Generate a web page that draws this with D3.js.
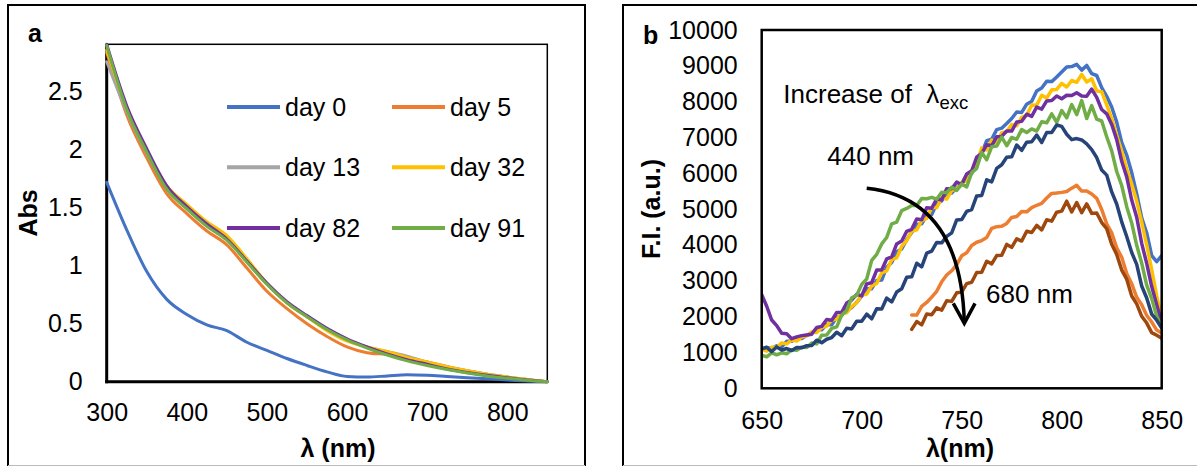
<!DOCTYPE html>
<html><head><meta charset="utf-8">
<script src="https://cdn.jsdelivr.net/npm/d3@7"></script>
<style>
body{margin:0;background:#fff}
svg{display:block}
text{font-family:"Liberation Sans",Arial,sans-serif;fill:#000}
</style>
</head><body>
<svg id="c" width="1197" height="466"></svg>
<script>
// ---------- Panel a data ----------
const wlA = [300,325,350,375,400,425,450,475,500,525,550,575,600,625,650,675,700,725,750,775,800,825,850];
const day0  = [1.72,1.31,0.95,0.71,0.58,0.49,0.44,0.34,0.27,0.2,0.14,0.085,0.045,0.04,0.05,0.06,0.055,0.045,0.035,0.025,0.015,0.006,0];
const day5  = [2.84,2.3,1.93,1.62,1.45,1.3,1.18,0.98,0.78,0.63,0.5,0.39,0.3,0.25,0.235,0.21,0.17,0.13,0.095,0.065,0.04,0.018,0];
const day13 = [2.76,2.33,1.97,1.67,1.5,1.35,1.23,1.04,0.84,0.68,0.56,0.45,0.36,0.3,0.26,0.22,0.17,0.13,0.095,0.065,0.04,0.018,0];
const day32 = [2.86,2.36,2.0,1.69,1.53,1.38,1.26,1.06,0.85,0.68,0.56,0.44,0.35,0.3,0.26,0.21,0.17,0.13,0.095,0.065,0.04,0.018,0];
const day82 = [2.91,2.38,2.01,1.69,1.51,1.36,1.23,1.04,0.85,0.69,0.57,0.46,0.37,0.3,0.24,0.19,0.15,0.11,0.08,0.055,0.035,0.015,0];
const day91 = [2.9,2.35,1.98,1.66,1.49,1.34,1.22,1.03,0.84,0.68,0.56,0.45,0.36,0.29,0.23,0.18,0.14,0.105,0.075,0.05,0.03,0.012,0];
const namesA = ["day 0","day 5","day 13","day 32","day 82","day 91"];
const xTicksA = [300,400,500,600,700,800];
const yTicksA = [0,0.5,1,1.5,2,2.5];

// ---------- Panel b data ----------
const wlB = [650,652.5,655,657.5,660,662.5,665,667.5,670,672.5,
  675,677.5,680,682.5,685,687.5,690,692.5,695,697.5,
  700,702.5,705,707.5,710,712.5,715,717.5,720,722.5,
  725,727.5,730,732.5,735,737.5,740,742.5,745,747.5,
  750,752.5,755,757.5,760,762.5,765,767.5,770,772.5,
  775,777.5,780,782.5,785,787.5,790,792.5,795,797.5,
  800,802.5,805,807.5,810,812.5,815,817.5,820,822.5,
  825,827.5,830,832.5,835,837.5,840,842.5,845,847.5,
  850];
const wlBLate = wlB.slice(30); // orange & brown start at 725 nm
const ex1 = [1100,1140,1110,1190,1160,1310,1310,1400,1390,1480,
  1540,1650,1635,1780,1775,1980,2030,2215,2250,2400,
  2570,2780,2780,3010,3020,3380,3510,3810,3890,4150,
  4350,4570,4590,4830,4850,5150,5230,5460,5450,5600,
  5720,5950,5990,6390,6560,6910,6950,7220,7260,7390,
  7530,7710,7700,7930,8010,8300,8380,8570,8560,8690,
  8830,8970,8980,9040,8880,9010,8780,8730,8390,8150,
  7850,7430,6860,6510,6020,5425,4760,4335,3705,3535,
  3700];
const ex2 = [1086,1036,1144,1144,1266,1240,1348,1320,1428,1466,
  1572,1557,1698,1738,1907,1925,2086,2110,2281,2392,
  2600,2630,2860,2930,3220,3280,3590,3640,3960,4120,
  4380,4420,4680,4740,5050,5040,5310,5280,5520,5560,
  5750,5790,6080,6240,6710,6650,6930,6850,7130,7160,
  7360,7330,7560,7620,7910,7900,8180,8100,8330,8340,
  8510,8410,8590,8540,8760,8550,8640,8300,8280,7910,
  7530,7055,6620,6120,5705,5225,4640,4000,3315,2580,
  1950];
const ex3 = [2615,2290,1905,1750,1535,1525,1385,1435,1470,1490,
  1511,1696,1729,1920,1897,2115,2123,2379,2466,2622,
  2580,2910,2950,3300,3300,3610,3670,4030,4110,4380,
  4438,4728,4702,5040,5026,5290,5254,5572,5568,5756,
  5680,5980,6070,6450,6560,6800,6770,7020,7030,7180,
  7180,7430,7450,7650,7590,7850,7790,8020,8030,8160,
  8080,8180,8170,8250,8160,8150,8350,8120,7780,7660,
  7365,6940,6335,5900,5255,4775,4045,3485,2840,2330,
  1820];
const ex4 = [920,880,988,936,992,962,1076,1064,1154,1138,
  1265,1240,1484,1488,1671,1716,2043,2172,2527,2594,
  2900,3050,3570,3740,4030,4210,4590,4640,4960,5020,
  5100,5100,5300,5290,5330,5280,5470,5460,5610,5520,
  5700,5620,6020,6140,6580,6380,6740,6760,7010,6770,
  7000,6950,7220,7140,7240,7180,7440,7410,7660,7420,
  7750,7550,7920,7640,8030,7530,7890,7510,7460,7020,
  6625,6050,5660,5070,4615,3990,3495,2880,2505,2010,
  1720];
const ex5 = [1100,1145,1025,1155,1070,1110,1055,1140,1130,1190,
  1192,1343,1273,1369,1416,1564,1467,1678,1658,1870,
  1870,2070,1940,2220,2210,2520,2410,2690,2780,3100,
  3110,3490,3390,3770,3830,4070,4060,4240,4340,4700,
  4710,4940,4990,5370,5380,5820,5760,6140,6240,6450,
  6460,6790,6640,6870,6880,7070,6860,7140,7140,7350,
  7310,7090,6940,6970,6930,6820,6660,6440,6090,5950,
  5480,5145,4645,4235,3790,3460,2855,2520,2070,1900,
  1680];
const ex6 = [2048,2044,2286,2396,2544,2708,2972,3162,3280,3450,
  3698,3784,3986,4076,4124,4208,4462,4512,4520,4600,
  4768,4794,4936,4926,5044,5108,5162,5312,5440,5450,
  5468,5494,5586,5666,5504,5508,5422,5302,4990,4590,
  4340,3920,3655,3205,2920,2540,2335,2035,1850,1625,
  1540];
const ex7 = [1644,1862,1770,2074,2050,2246,2182,2444,2426,2666,
  2684,2922,2960,3234,3240,3546,3472,3704,3716,4016,
  3934,4172,4110,4384,4350,4546,4422,4704,4666,4916,
  4944,5222,4920,5184,4900,5146,4882,4894,4626,4456,
  4020,3735,3300,3045,2575,2355,2010,1820,1555,1480,
  1400];
const xTicksB = [650,700,750,800,850];
const yTicksB = [0,1000,2000,3000,4000,5000,6000,7000,8000,9000,10000];

// ---------- styles ----------
const colorsA = ["#4472C4","#ED7D31","#A5A5A5","#FFC000","#7030A0","#70AD47"];
const FONT = "'Liberation Sans', Arial, sans-serif";
const svg = d3.select("#c");

// outer panel frames
svg.append("rect").attr("x",8).attr("y",5).attr("width",577).attr("height",490)
  .attr("fill","none").attr("stroke","#000").attr("stroke-width",2);
svg.append("rect").attr("x",623).attr("y",5).attr("width",600).attr("height",490)
  .attr("fill","none").attr("stroke","#000").attr("stroke-width",2);
svg.append("line").attr("x1",8).attr("x2",585).attr("y1",465.5).attr("y2",465.5).attr("stroke","#bbb");
svg.append("line").attr("x1",623).attr("x2",1197).attr("y1",465.5).attr("y2",465.5).attr("stroke","#bbb");

function styleAxis(g){
  g.select(".domain").remove();
  g.attr("font-size",25).attr("font-family",FONT);
  g.selectAll("text").attr("fill","#000");
}

// ================= Panel a =================
const xA = d3.scaleLinear().domain([300,850]).range([106.7,547.3]);
const yA = d3.scaleLinear().domain([0,2.91]).range([381.7,44.3]);
const gA = svg.append("g");
gA.append("rect").attr("x",xA(300)).attr("y",yA(2.91)).attr("width",xA(850)-xA(300)).attr("height",yA(0)-yA(2.91))
  .attr("fill","none").attr("stroke","#000").attr("stroke-width",1.5);
gA.append("line").attr("x1",xA(300)).attr("x2",xA(300)).attr("y1",yA(2.91)).attr("y2",yA(0)+1.5).attr("stroke","#000").attr("stroke-width",3);
gA.append("line").attr("x1",xA(300)-1.5).attr("x2",xA(850)).attr("y1",yA(0)).attr("y2",yA(0)).attr("stroke","#000").attr("stroke-width",3);

gA.append("g").attr("transform",`translate(0,${yA(0)})`)
  .call(d3.axisBottom(xA).tickValues(xTicksA).tickSize(0).tickPadding(22).tickFormat(d3.format("d")))
  .call(styleAxis);
gA.append("g").attr("transform",`translate(${xA(300)},0)`)
  .call(d3.axisLeft(yA).tickValues(yTicksA).tickSize(0).tickPadding(24).tickFormat(d=>String(d)))
  .call(styleAxis);

gA.append("clipPath").attr("id","clipA").append("rect")
  .attr("x",xA(300)-3).attr("y",yA(2.91)-2).attr("width",xA(850)-xA(300)+6).attr("height",yA(0)-yA(2.91)+4);
const lineA = d3.line().x((d,i)=>xA(wlA[i])).y(d=>yA(d)).curve(d3.curveMonotoneX);
const seriesA = [day0,day5,day13,day32,day82,day91];
gA.append("g").attr("clip-path","url(#clipA)").selectAll("path").data(seriesA).join("path")
  .attr("d",lineA).attr("fill","none").attr("stroke",(d,i)=>colorsA[i])
  .attr("stroke-width",3).attr("stroke-linejoin","round").attr("stroke-linecap","round");

// legend
const legRowY = [107,167.3,228];
const legColX = [227,392];
namesA.forEach((n,i)=>{
  const r = Math.floor(i/2), c = i%2;
  const lg = gA.append("g").attr("transform",`translate(${legColX[c]},${legRowY[r]})`);
  lg.append("line").attr("x1",0).attr("x2",53).attr("y1",0).attr("y2",0)
    .attr("stroke",colorsA[i]).attr("stroke-width",4);
  lg.append("text").attr("x",58).attr("y",9).attr("font-size",25).text(n);
});

// titles
gA.append("text").attr("x",28).attr("y",42).attr("font-size",25).attr("font-weight","bold").text("a");
gA.append("text").attr("transform","translate(37,213) rotate(-90)").attr("text-anchor","middle")
  .attr("font-size",25).attr("font-weight","bold").text("Abs");
gA.append("text").attr("x",338).attr("y",457).attr("text-anchor","middle")
  .attr("font-size",25).attr("font-weight","bold").text("λ (nm)");

// ================= Panel b =================
const xB = d3.scaleLinear().domain([650,850]).range([761.7,1161.7]);
const yB = d3.scaleLinear().domain([0,10000]).range([388.3,30]);
const gB = svg.append("g");

gB.append("g").attr("transform",`translate(0,${yB(0)})`)
  .call(d3.axisBottom(xB).tickValues(xTicksB).tickSize(0).tickPadding(23).tickFormat(d3.format("d")))
  .call(styleAxis);
gB.append("g").attr("transform",`translate(${xB(650)},0)`)
  .call(d3.axisLeft(yB).tickValues(yTicksB).tickSize(0).tickPadding(24).tickFormat(d3.format("d")))
  .call(styleAxis);

gB.append("clipPath").attr("id","clipB").append("rect")
  .attr("x",xB(650)).attr("y",yB(10000)).attr("width",xB(850)-xB(650)).attr("height",yB(0)-yB(10000));
const seriesB = [
  {x:wlB, v:ex1, c:"#4472C4"},
  {x:wlB, v:ex2, c:"#FFC000"},
  {x:wlB, v:ex3, c:"#7030A0"},
  {x:wlB, v:ex4, c:"#70AD47"},
  {x:wlB, v:ex5, c:"#264478"},
  {x:wlBLate, v:ex6, c:"#ED7D31"},
  {x:wlBLate, v:ex7, c:"#9E480E"}
];
gB.append("g").attr("clip-path","url(#clipB)").selectAll("path").data(seriesB).join("path")
  .attr("d",s=>d3.line().x((d,i)=>xB(s.x[i])).y(d=>yB(d))(s.v))
  .attr("fill","none").attr("stroke",s=>s.c).attr("stroke-width",3.5)
  .attr("stroke-linejoin","round").attr("stroke-linecap","round");

gB.append("rect").attr("x",xB(650)).attr("y",yB(10000)).attr("width",xB(850)-xB(650)).attr("height",yB(0)-yB(10000))
  .attr("fill","none").attr("stroke","#000").attr("stroke-width",2.5);

// annotations (data coordinates)
const t1 = gB.append("text").attr("x",xB(660.8)).attr("y",yB(7970)).attr("font-size",26)
  .style("white-space","pre");
t1.append("tspan").text("Increase of  λ");
t1.append("tspan").attr("font-size",18.5).attr("dy",6.5).text("exc");
gB.append("text").attr("x",xB(682.8)).attr("y",yB(6232)).attr("font-size",26).text("440 nm");
gB.append("text").attr("x",xB(762.2)).attr("y",yB(2372)).attr("font-size",26).text("680 nm");

const arrowPts = [[702.5,5582],[734.15,5395],[750.15,4139],[751.3,1850]];
const p = arrowPts.map(d=>[xB(d[0]),yB(d[1])]);
gB.append("path").attr("d",`M${p[0]}C${p[1]} ${p[2]} ${p[3]}`)
  .attr("fill","none").attr("stroke","#000").attr("stroke-width",3.5);
const headPts = [[745.8,2372],[751.3,1814],[756.65,2372]];
gB.append("path").attr("d",d3.line().x(d=>xB(d[0])).y(d=>yB(d[1]))(headPts))
  .attr("fill","none").attr("stroke","#000").attr("stroke-width",3.5).attr("stroke-linejoin","miter");

gB.append("text").attr("x",643).attr("y",44).attr("font-size",25).attr("font-weight","bold").text("b");
gB.append("text").attr("transform","translate(660,209) rotate(-90)").attr("text-anchor","middle")
  .attr("font-size",25).attr("font-weight","bold").text("F.I. (a.u.)");
gB.append("text").attr("x",960).attr("y",457).attr("text-anchor","middle")
  .attr("font-size",25).attr("font-weight","bold").text("λ(nm)");
</script>
</body></html>
